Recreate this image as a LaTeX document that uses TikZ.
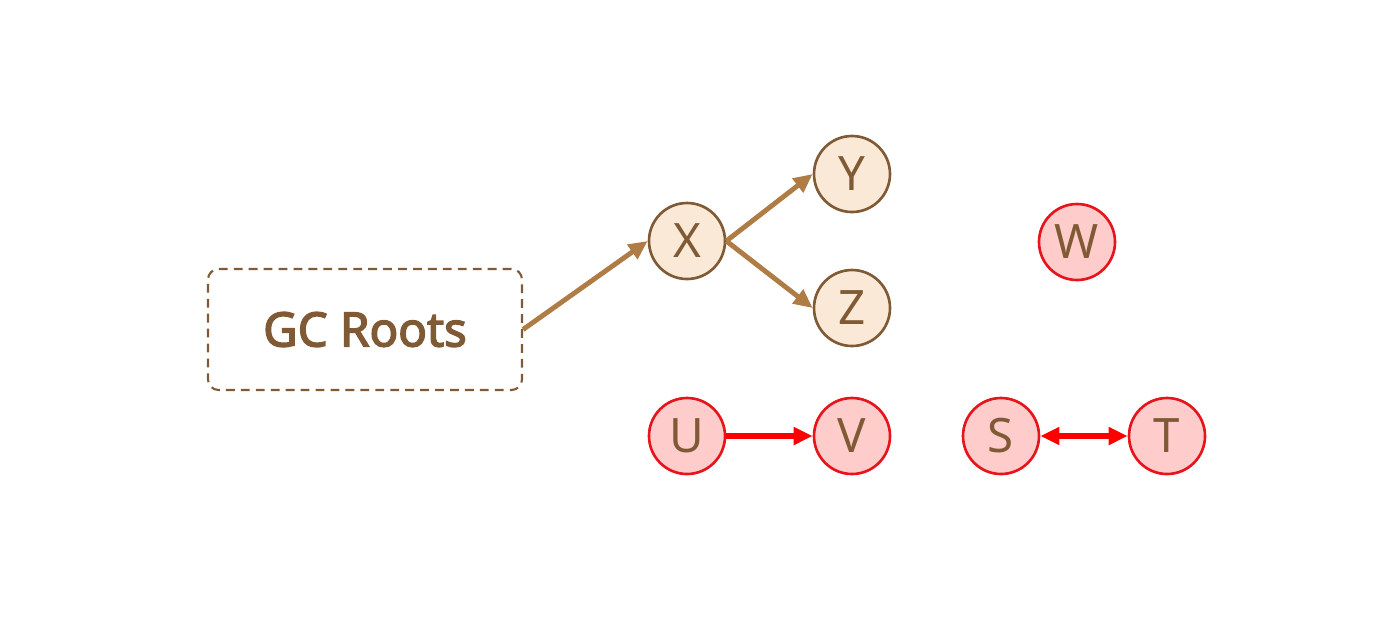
\documentclass[tikz,border=0pt]{standalone}
\usepackage{fontspec}
\setmainfont{Noto Sans}
\newfontfamily\rootsfont{Noto Sans}[FakeBold=3]
\usetikzlibrary{arrows.meta}
\definecolor{gcbrown}{HTML}{7F5A35}
\definecolor{linkbrown}{HTML}{B07C45}
\definecolor{livefill}{HTML}{FBE9D7}
\definecolor{deadfill}{HTML}{FFCCCC}
\definecolor{deadred}{HTML}{E8141B}
\tikzstyle{gc-box} = [draw=gcbrown, dash pattern=on 5pt off 3.5pt,
    rounded corners=6pt, line width=1.2pt,
    rectangle, minimum width=6.28cm, minimum height=2.42cm,
    text=gcbrown, font=\fontsize{27}{30}\rootsfont]
\tikzstyle{live-obj} = [draw=gcbrown, fill=livefill, circle, line width=1.5pt,
    minimum size=1.52cm, inner sep=0pt, text=gcbrown,
    font=\fontsize{27}{30}\selectfont]
\tikzstyle{dead-obj} = [live-obj, draw=deadred, fill=deadfill]
\tikzstyle{ref-link} = [draw=linkbrown, line width=2.8pt,
    -{Triangle[length=0.38cm,width=0.34cm]}]
\tikzstyle{dead-link} = [draw=red, line width=3pt,
    -{Triangle[length=0.38cm,width=0.34cm]}]

\begin{document}
\begin{tikzpicture}
\useasboundingbox (0,0) rectangle (27.6,-12.34);
\node [gc-box] (roots) at (7.30,-6.59) {GC Roots};
% reachable objects
\node [live-obj] (x) at (13.74,-4.82) {X};
\node [live-obj] (y) at (17.04,-3.48) {Y};
\node [live-obj] (z) at (17.04,-6.16) {Z};
% unreachable objects
\node [dead-obj] (w) at (21.54,-4.84) {W};
\node [dead-obj] (u) at (13.74,-8.72) {U};
\node [dead-obj] (v) at (17.04,-8.72) {V};
\node [dead-obj] (s) at (20.02,-8.72) {S};
\node [dead-obj] (t) at (23.34,-8.72) {T};

\draw [ref-link] (roots.east) -- (x.west);
\draw [ref-link] (x.east) -- (y.west);
\draw [ref-link] (x.east) -- (z.west);
\draw [dead-link] (u.east) -- (v);
\draw [dead-link, {Triangle[length=0.38cm,width=0.34cm]}-{Triangle[length=0.38cm,width=0.34cm]}] (s) -- (t);
\end{tikzpicture}
\end{document}
